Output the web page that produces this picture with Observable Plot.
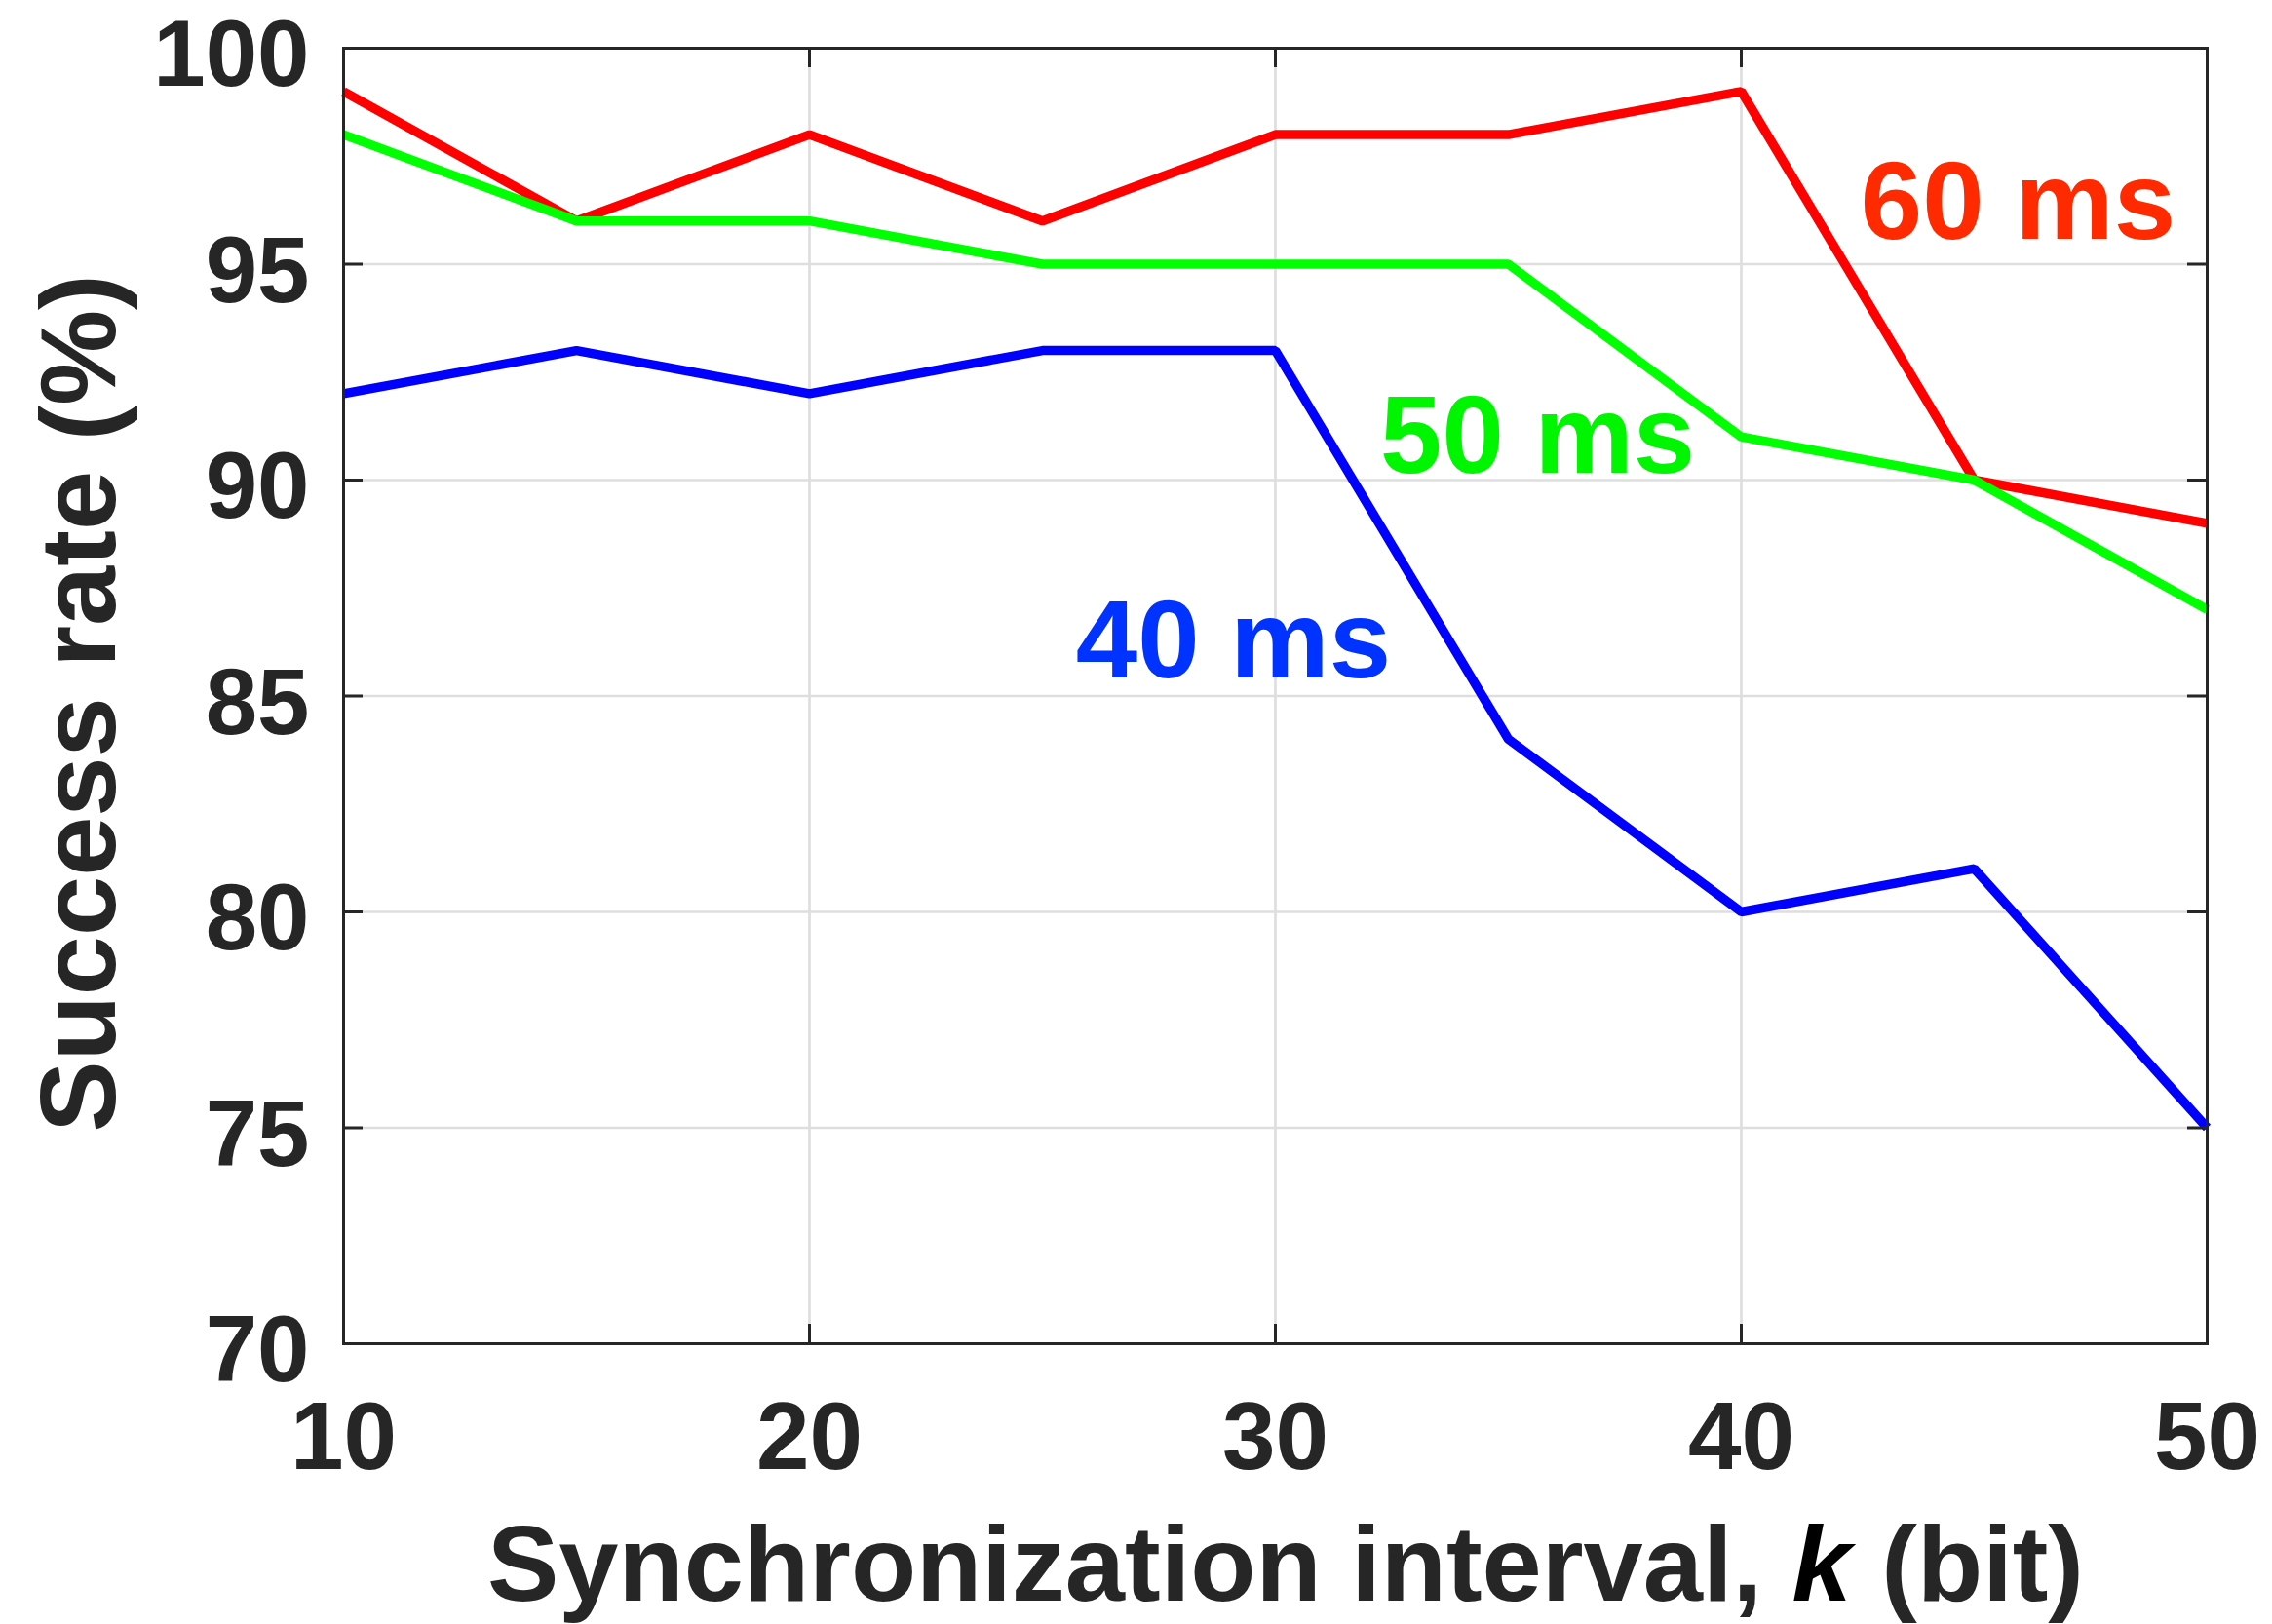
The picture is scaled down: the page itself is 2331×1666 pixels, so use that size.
<!DOCTYPE html>
<html>
<head>
<meta charset="utf-8">
<script src="https://cdn.jsdelivr.net/npm/d3@7"></script>
<script src="https://cdn.jsdelivr.net/npm/@observablehq/plot@0.6"></script>
<style>
  body { margin: 0; background: #ffffff; }
  #chart svg { display: block; overflow: visible; }
</style>
</head>
<body>
<div id="chart"></div>
<script>
// ---- data ----
const intervals = [10, 15, 20, 25, 30, 35, 40, 45, 50];
const rate60 = [99, 96, 98, 96, 98, 98, 99, 90, 89];
const rate50 = [98, 96, 96, 95, 95, 95, 91, 90, 87];
const rate40 = [92, 93, 92, 93, 93, 84, 80, 81, 75];
const seriesNames = ["60 ms", "50 ms", "40 ms"];
const seriesColors = ["#ff0000", "#00ff00", "#0000ff"];
const labelColors = ["#ff2a00", "#00f500", "#0033ff"];
const labelX = [45.94, 35.63, 29.10];
const labelY = [96.41, 90.99, 86.25];
const xTicks = [10, 20, 30, 40, 50];
const yTicks = [70, 75, 80, 85, 90, 95, 100];
const xTitle = ["Synchronization interval, ", "k", " (bit)"];
const yTitle = "Success rate (%)";

// ---- build tables ----
const seriesValues = [rate60, rate50, rate40];
const rows = [];
seriesNames.forEach((name, i) => {
  intervals.forEach((k, j) => rows.push({series: name, k, rate: seriesValues[i][j]}));
});
const labels = seriesNames.map((name, i) => ({text: name, x: labelX[i], y: labelY[i], color: labelColors[i]}));

const W = 2331, H = 1666;
const mL = 352, mR = 67, mT = 49, mB = 288;
const xDom = [10, 50], yDom = [70, 100];
const tickPx = 20;
const dx = tickPx / (W - mL - mR) * (xDom[1] - xDom[0]);
const dy = tickPx / (H - mT - mB) * (yDom[1] - yDom[0]);
const ink = "#262626";
const font = "'Liberation Sans', Arial, Helvetica, sans-serif";

const chart = Plot.plot({
  width: W,
  height: H,
  marginLeft: mL,
  marginRight: mR,
  marginTop: mT,
  marginBottom: mB,
  x: {domain: xDom},
  y: {domain: yDom},
  color: {domain: seriesNames, range: seriesColors},
  style: {fontFamily: font, fontWeight: "bold", color: ink, background: "#ffffff", overflow: "visible"},
  marks: [
    Plot.gridX(xTicks, {stroke: "#dedede", strokeOpacity: 1, strokeWidth: 2.7}),
    Plot.gridY(yTicks, {stroke: "#dedede", strokeOpacity: 1, strokeWidth: 2.7}),
    Plot.line(rows, {x: "k", y: "rate", z: "series", stroke: "series", strokeWidth: 9.5, strokeLinejoin: "miter", strokeLinecap: "butt"}),
    Plot.frame({stroke: ink, strokeWidth: 3}),
    Plot.ruleX(xTicks, {x: d => d, y1: yDom[0], y2: yDom[0] + dy, stroke: ink, strokeWidth: 3}),
    Plot.ruleX(xTicks, {x: d => d, y1: yDom[1] - dy, y2: yDom[1], stroke: ink, strokeWidth: 3}),
    Plot.ruleY(yTicks, {y: d => d, x1: xDom[0], x2: xDom[0] + dx, stroke: ink, strokeWidth: 3}),
    Plot.ruleY(yTicks, {y: d => d, x1: xDom[1] - dx, x2: xDom[1], stroke: ink, strokeWidth: 3}),
    Plot.axisX(xTicks, {tickSize: 0, tickPadding: 59, fontSize: 98, fontWeight: "bold", fill: ink, label: null}),
    Plot.axisY(yTicks, {tickSize: 0, tickPadding: 35, dy: 8, fontSize: 96, fontWeight: "bold", fill: ink, label: null}),
    Plot.text(labels, {x: "x", y: "y", text: "text", fill: "color", fontSize: 114, fontWeight: "bold", textAnchor: "middle", lineAnchor: "middle"})
  ]
});

document.getElementById("chart").appendChild(chart);

// ---- axis titles (real SVG text, with italic k) ----
const svg = d3.select(chart);
const xs = chart.scale("x"), ys = chart.scale("y");
const xCenter = xs.apply((xDom[0] + xDom[1]) / 2) + 11;
const yCenter = ys.apply((yDom[0] + yDom[1]) / 2) + 8;

const xt = svg.append("text")
  .attr("x", xCenter)
  .attr("y", 1642)
  .attr("text-anchor", "middle")
  .attr("font-family", font)
  .attr("font-weight", "bold")
  .attr("font-size", 110)
  .attr("fill", ink);
xt.append("tspan").text(xTitle[0]);
xt.append("tspan").attr("font-style", "italic").attr("fill", "#000000").text(xTitle[1]);
xt.append("tspan").text(xTitle[2]);

svg.append("text")
  .attr("transform", `translate(118,${yCenter}) rotate(-90)`)
  .attr("text-anchor", "middle")
  .attr("font-family", font)
  .attr("font-weight", "bold")
  .attr("font-size", 110)
  .attr("fill", ink)
  .text(yTitle);
</script>
</body>
</html>
